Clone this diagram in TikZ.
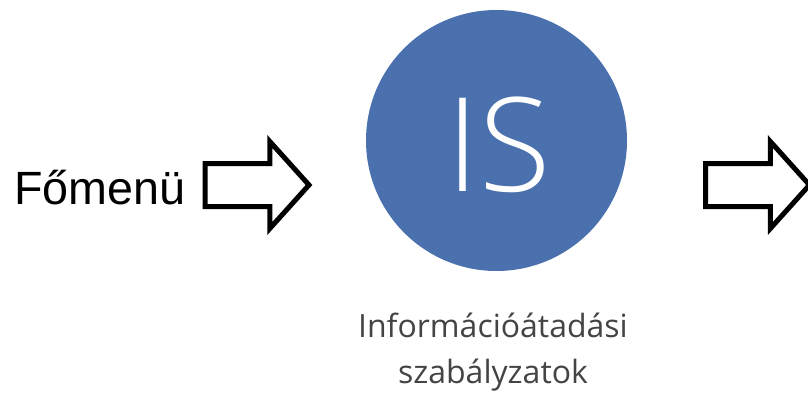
\documentclass[tikz,border=0pt]{standalone}
\usepackage{fontspec}
\usepackage{tikz}
\usetikzlibrary{shapes.arrows}
\usetikzlibrary{positioning}
\newfontfamily\opensans{Open Sans}
\IfFontExistsTF{Open Sans Light}
  {\newfontfamily\opensanslight{Open Sans Light}}
  {\newfontfamily\opensanslight{Open Sans}}
\newfontfamily\arialfont{Liberation Sans}
\definecolor{isblue}{RGB}{74,112,174}
\definecolor{capgray}{RGB}{68,68,68}

\begin{document}
\begin{tikzpicture}[x=0.75pt,
                    y=-0.75pt,
                    nar/.style={single arrow,draw,fill=white,line width=3.75pt,
                                minimum height=78pt,minimum width=61.5pt,
                                single arrow head extend=16.5pt,
                                single arrow tip angle=96,
                                inner xsep=0pt,inner ysep=14.25pt,
                                outer sep=0pt,anchor=tail},
                    ncirc/.style={circle,fill=isblue,minimum size=195.75pt,inner sep=0pt}
                    %ntxt/.style={inner sep=0pt}
                    ]
  \useasboundingbox (0,0) rectangle (808,396);
  \node[ncirc] (is) at (496.5,140.5) {};
  \node[text=white,inner sep=0pt,font=\opensanslight\fontsize{98}{98}\selectfont] (isletters) at (498.5,145) {IS};
  \node[text=capgray,inner sep=0pt,align=center,anchor=base,
        font=\opensans\fontsize{24}{34.5}\selectfont] (caption) at (493,383) {Információátadási\\szabályzatok};
  \node[inner sep=0pt,anchor=base west,font=\arialfont\fontsize{35}{40}\selectfont] (fomenu) at (14,204) {Főmenü};
  \node[nar] (arrowin) at (205,185) {};
  \node[nar] (arrowout) at (705.5,185) {};
\end{tikzpicture}
\end{document}
